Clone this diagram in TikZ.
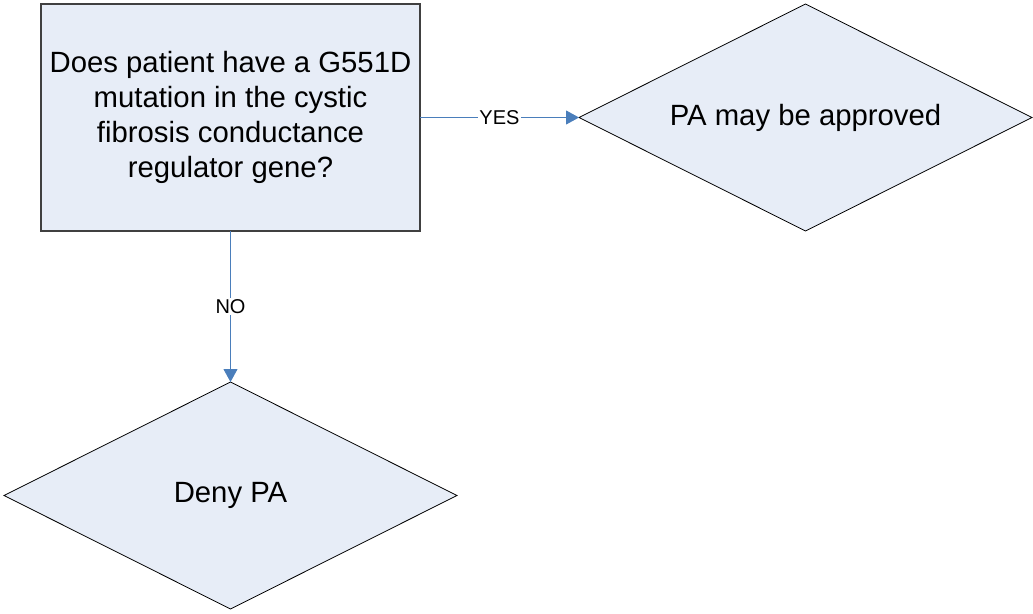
\documentclass[tikz,border=0pt]{standalone}
\usepackage{fontspec}
\setmainfont{Liberation Sans}
\usetikzlibrary{shapes.geometric,arrows.meta}
\definecolor{shapefill}{HTML}{E7EDF7}
\definecolor{flowblue}{HTML}{4A7EBB}
\begin{document}
\begin{tikzpicture}[x=1pt,y=-1pt,
  question/.style={draw=black!75,line width=1.2pt,fill=shapefill,inner sep=0pt,outer sep=0pt,
    minimum width=379pt,minimum height=227pt,align=center,
    font=\fontsize{29.3}{35}\selectfont},
  decision/.style={diamond,aspect=2,draw=black,line width=0.8pt,fill=shapefill,inner sep=0pt,outer sep=0pt,
    minimum width=453pt,minimum height=227pt,font=\fontsize{29.3}{35}\selectfont},
  flow/.style={draw=flowblue,line width=0.9pt,-{Triangle[length=13pt,width=14pt]}},
  flowlabel/.style={fill=white,inner sep=1pt,font=\fontsize{20}{24}\selectfont}]
  \useasboundingbox (0,0) rectangle (1033,613);
  \node[question] (q) at (230.5,117.5)
    {Does patient have a G551D\\mutation in the cystic\\fibrosis conductance\\regulator gene?};
  \node[decision] (yes) at (805.5,117.5) {PA may be approved};
  \node[decision] (no) at (230.5,495.5) {Deny PA};
  \draw[flow] (q.east) -- node[flowlabel] {YES} (yes.west);
  \draw[flow] (q.south) -- node[flowlabel] {NO} (no.north);
\end{tikzpicture}
\end{document}
